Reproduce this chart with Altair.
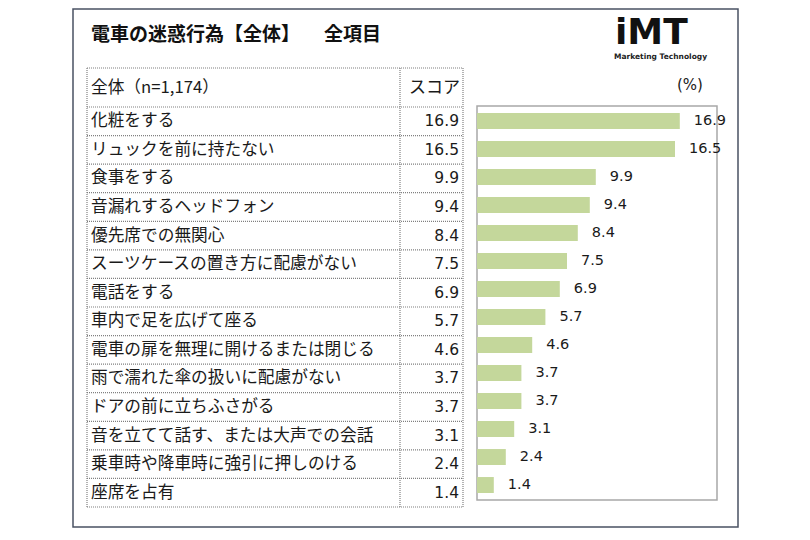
import altair as alt
import pandas as pd

items = [
    "化粧をする",
    "リュックを前に持たない",
    "食事をする",
    "音漏れするヘッドフォン",
    "優先席での無関心",
    "スーツケースの置き方に配慮がない",
    "電話をする",
    "車内で足を広げて座る",
    "電車の扉を無理に開けるまたは閉じる",
    "雨で濡れた傘の扱いに配慮がない",
    "ドアの前に立ちふさがる",
    "音を立てて話す、または大声での会話",
    "乗車時や降車時に強引に押しのける",
    "座席を占有",
]
scores = [16.9, 16.5, 9.9, 9.4, 8.4, 7.5, 6.9, 5.7, 4.6, 3.7, 3.7, 3.1, 2.4, 1.4]

title_text = "電車の迷惑行為【全体】"
title_text2 = "全項目"
header_left = "全体（n=1,174）"
header_right = "スコア"
unit_text = "(%)"
logo_text = "iMT"
logo_sub_text = "Marketing Technology"

df = pd.DataFrame({"item": items, "score": scores})
df["score_label"] = df["score"].map(lambda v: f"{v:.1f}")
one = pd.DataFrame({"a": [0]})

JP = "Noto Sans CJK JP"
NUM = "DejaVu Sans"
TXT = "#1a1a1a"

table_y = alt.Scale(type="band", domain=items, range=[99, 499], paddingInner=0, paddingOuter=0)
bar_y = alt.Scale(type="band", domain=items, range=[98, 492], paddingInner=0.43, paddingOuter=0.25)
bar_x = alt.Scale(domain=[0, 20], range=[469, 709], zero=True, nice=False)

# outer frame
frame = alt.Chart(one).mark_rect(fill="white", stroke="#4a5263", strokeWidth=1.5).encode(
    x=alt.value(65), x2=alt.value(730), y=alt.value(1), y2=alt.value(519)
)

title1 = alt.Chart(one).mark_text(
    text=title_text, font=JP, fontSize=19, fontWeight="bold", align="left", baseline="middle", color="#111"
).encode(x=alt.value(83), y=alt.value(27))
title2 = alt.Chart(one).mark_text(
    text=title_text2, font=JP, fontSize=19, fontWeight="bold", align="left", baseline="middle", color="#111"
).encode(x=alt.value(316), y=alt.value(27))

logo = alt.Chart(one).mark_text(
    text=logo_text, font="DejaVu Sans", fontSize=36, fontWeight="bold", align="left",
    baseline="bottom", color="#111"
).encode(x=alt.value(607), y=alt.value(44))
logo_sub = alt.Chart(one).mark_text(
    text=logo_sub_text, font="DejaVu Sans", fontSize=7.5, fontWeight="bold", align="left",
    baseline="middle", color="#222"
).encode(x=alt.value(606), y=alt.value(49))

unit = alt.Chart(one).mark_text(
    text=unit_text, font=NUM, fontSize=15, align="left", baseline="middle", color=TXT
).encode(x=alt.value(669), y=alt.value(77))

# table lines
line_style = dict(color="#808080", strokeDash=[1, 1], strokeWidth=1.2)
row_lines = alt.Chart(df).mark_rule(**line_style).encode(
    y=alt.Y("item:N", bandPosition=0, scale=table_y, axis=None),
    x=alt.value(79), x2=alt.value(455),
)
hline_top = alt.Chart(one).mark_rule(**line_style).encode(x=alt.value(79), x2=alt.value(455), y=alt.value(60))
hline_bot = alt.Chart(one).mark_rule(**line_style).encode(x=alt.value(79), x2=alt.value(455), y=alt.value(499))
vl1 = alt.Chart(one).mark_rule(**line_style).encode(x=alt.value(79), y=alt.value(60), y2=alt.value(499))
vl2 = alt.Chart(one).mark_rule(**line_style).encode(x=alt.value(392), y=alt.value(60), y2=alt.value(499))
vl3 = alt.Chart(one).mark_rule(**line_style).encode(x=alt.value(455), y=alt.value(60), y2=alt.value(499))

hdr1 = alt.Chart(one).mark_text(
    text=header_left, font=JP, fontSize=16.7, align="left", baseline="middle", color=TXT
).encode(x=alt.value(83), y=alt.value(80))
hdr2 = alt.Chart(one).mark_text(
    text=header_right, font=JP, fontSize=17, align="right", baseline="middle", color=TXT
).encode(x=alt.value(452), y=alt.value(80))

item_text = alt.Chart(df).mark_text(
    font=JP, fontSize=16.7, align="left", baseline="middle", color=TXT
).encode(
    y=alt.Y("item:N", scale=table_y, axis=None),
    x=alt.value(83),
    text="item:N",
)
score_text = alt.Chart(df).mark_text(
    font=NUM, fontSize=15.5, align="right", baseline="middle", color=TXT
).encode(
    y=alt.Y("item:N", scale=table_y, axis=None),
    x=alt.value(451),
    text="score_label:N",
)

table = alt.layer(row_lines, hline_top, hline_bot, vl1, vl2, vl3, hdr1, hdr2, item_text, score_text)

# bar chart
plot_frame = alt.Chart(one).mark_rect(fill="white", stroke="#a8a8a8", strokeWidth=1.5).encode(
    x=alt.value(469), x2=alt.value(709), y=alt.value(98), y2=alt.value(492)
)
bars = alt.Chart(df).mark_bar(color="#c4d79b").encode(
    y=alt.Y("item:N", scale=bar_y, axis=None),
    x=alt.X("score:Q", scale=bar_x, axis=None),
)
bar_labels = alt.Chart(df).mark_text(
    font=NUM, fontSize=14.5, align="left", baseline="middle", dx=14, color=TXT
).encode(
    y=alt.Y("item:N", scale=bar_y, axis=None),
    x=alt.X("score:Q", scale=bar_x, axis=None),
    text="score_label:N",
)
barchart = alt.layer(bars, bar_labels)

chart = alt.layer(
    frame, title1, title2, logo, logo_sub, unit, table, plot_frame, barchart
).resolve_scale(
    y="independent", x="independent"
).properties(
    width=794, height=524, autosize=alt.AutoSizeParams(type="none"), padding=0, background="white"
).configure_view(stroke=None)

chart.save("out.html", embed_options={"renderer": "svg", "actions": False})
